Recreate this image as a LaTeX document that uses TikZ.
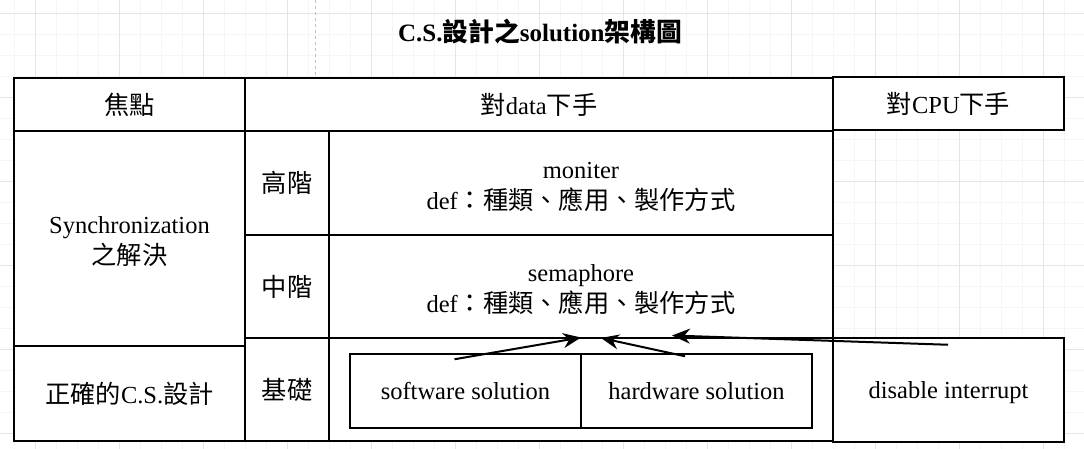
\documentclass[tikz,border=0pt]{standalone}
\usepackage{fontspec}
\setmainfont{Liberation Serif}
\newfontfamily\zh{Noto Sans CJK TC}[Scale=1.03]
\usetikzlibrary{arrows.meta}
\newcommand{\topgap}{\rule{0pt}{24pt}}
\tikzset{
  cell/.style={draw, line width=1.5pt, fill=white, inner sep=0pt, align=center,
    font=\fontsize{24.5}{31}\selectfont},
  arr/.style={line width=2pt, -{Stealth[length=18pt,width=15pt,inset=6pt]}},
  gridminor/.style={line width=0.8pt, black!4},
  gridmajor/.style={line width=0.8pt, black!10},
}
\begin{document}
\begin{tikzpicture}[x=1pt,y=-1pt]
\useasboundingbox (0,0) rectangle (1084,449);
\fill[white] (0,0) rectangle (1084,449);
\foreach \gx in {14,35,...,1084} \draw[gridminor] (\gx,0) -- (\gx,449);
\foreach \gy in {13,34,...,449} \draw[gridminor] (0,\gy) -- (1084,\gy);
\foreach \gx in {35,119,...,1084} \draw[gridmajor] (\gx,0) -- (\gx,449);
\foreach \gy in {13,97,...,449} \draw[gridmajor] (0,\gy) -- (1084,\gy);
\draw[black!25, dashed, line width=0.8pt] (315.5,0) -- (315.5,78);

\node[font=\fontsize{25}{30}\selectfont\bfseries] (title) at (540,32)
  {C.S.{\zh\bfseries 設計之}solution{\zh\bfseries 架構圖}};

% header row
\node[cell, minimum width=231pt, minimum height=53pt] (focus) at (129.5,104.5) {{\zh 焦點}};
\node[cell, minimum width=588pt, minimum height=53pt] (data) at (539,104.5) {{\zh 對}data{\zh 下手}};
\node[cell, minimum width=231pt, minimum height=53pt] (cpu) at (948.5,103.5) {{\zh 對}CPU{\zh 下手}};

% left column
\node[cell, minimum width=231pt, minimum height=215pt] (sync) at (129.5,238.5) {\topgap Synchronization\\{\zh 之解決}};
\node[cell, minimum width=231pt, minimum height=95pt] (csdesign) at (129.5,393.5) {{\zh 正確的}C.S.{\zh 設計}};

% levels
\node[cell, minimum width=84pt, minimum height=104pt] (lvlHigh) at (287,183) {{\zh 高階}};
\node[cell, minimum width=84pt, minimum height=103pt] (lvlMid) at (287,286.5) {{\zh 中階}};
\node[cell, minimum width=84pt, minimum height=103pt] (lvlBase) at (287,389.5) {{\zh 基礎}};

\node[cell, minimum width=504pt, minimum height=104pt] (monitor) at (581,183) {\topgap moniter\\def{\zh ：種類、應用、製作方式}};
\node[cell, minimum width=504pt, minimum height=103pt] (semaphore) at (581,286.5) {\topgap semaphore\\def{\zh ：種類、應用、製作方式}};
\node[cell, minimum width=504pt, minimum height=103pt] (baseCell) at (581,389.5) {};
\node[cell, minimum width=231pt, minimum height=74pt] (software) at (465.5,391) {software solution};
\node[cell, minimum width=231pt, minimum height=74pt] (hardware) at (696.5,391) {hardware solution};
\node[cell, minimum width=231pt, minimum height=104pt, text depth=0pt] (disable) at (948.5,390) {disable interrupt};

\coordinate (tipSw) at (581,337.5);
\coordinate (tipHw) at (601,338);
\coordinate (tipDi) at (672,335.5);
\draw[arr] ([xshift=-11pt,yshift=-6pt]software.north) -- (tipSw);
\draw[arr] ([xshift=-11.5pt,yshift=-3pt]hardware.north) -- (tipHw);
\draw[arr] ([xshift=-0.5pt,yshift=-7.5pt]disable.north) -- (tipDi);
\end{tikzpicture}
\end{document}
